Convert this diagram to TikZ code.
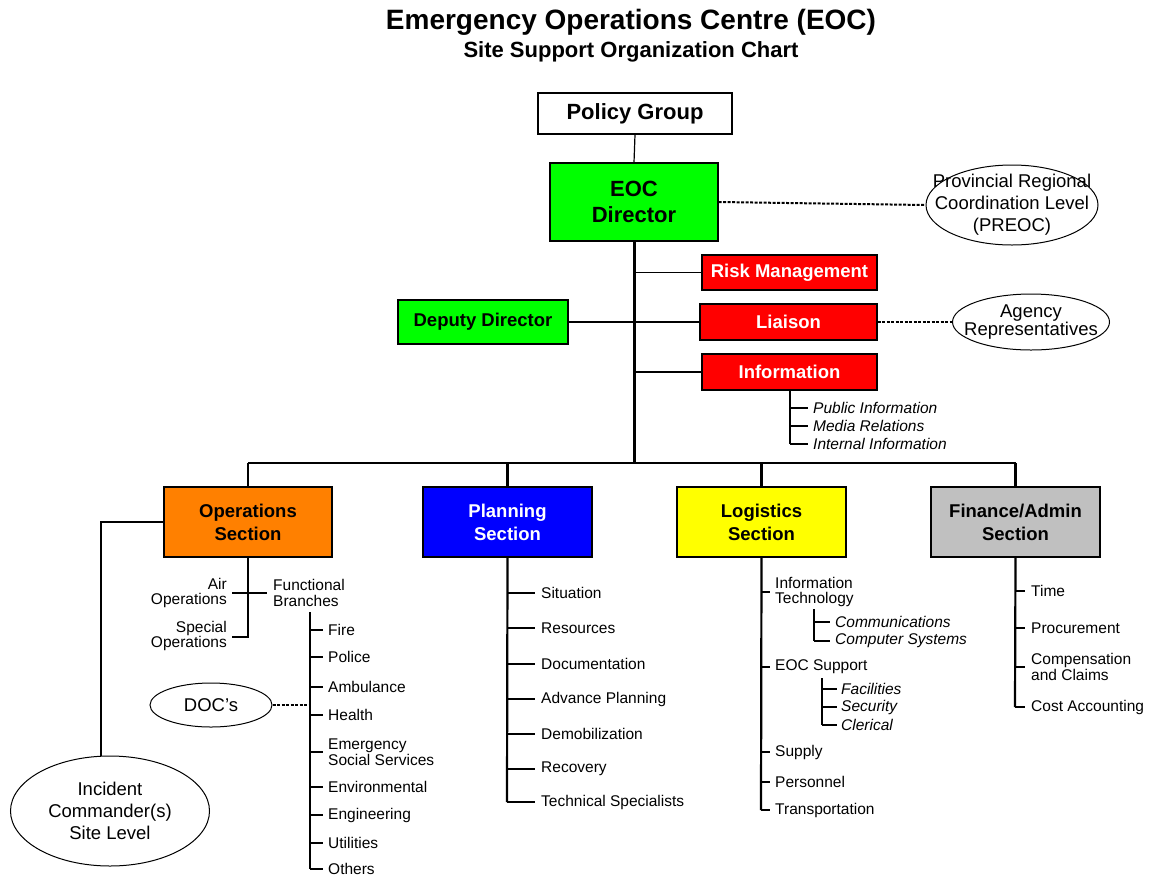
\documentclass[tikz,border=0pt]{standalone}
\usepackage{fontspec}
\setmainfont{Liberation Sans}
\usetikzlibrary{shapes.geometric}
\definecolor{eocgreen}{RGB}{0,255,0}
\definecolor{eocred}{RGB}{255,0,0}
\definecolor{eocorange}{RGB}{255,128,0}
\definecolor{eocblue}{RGB}{0,0,255}
\definecolor{eocyellow}{RGB}{255,255,0}
\definecolor{eocgray}{RGB}{192,192,192}
\tikzset{
  unit/.style={draw, line width=1.2pt, inner sep=0pt, align=center},
  bigbox/.style={unit, font=\fontsize{22}{26}\selectfont\bfseries},
  midbox/.style={unit, font=\fontsize{18.5}{23}\selectfont\bfseries},
  oval/.style={draw, ellipse, line width=1pt, inner xsep=-20pt, inner ysep=-6pt, align=center, font=\fontsize{18.5}{22}\selectfont},
  item/.style={anchor=west, inner sep=0pt, align=left, font=\fontsize{15.5}{15.5}\selectfont},
  subitem/.style={item, font=\fontsize{15.5}{15.5}\selectfont\itshape},
  stem/.style={line width=2.2pt},
  twig/.style={line width=1.2pt},
  link/.style={line width=2pt, dash pattern=on 3pt off 1.5pt}
}
\begin{document}
\begin{tikzpicture}[x=1pt, y=-1pt]
\useasboundingbox (0,0) rectangle (1151,876);
% titles
\node[font=\fontsize{28}{32}\selectfont\bfseries] (title) at (631,22) {Emergency Operations Centre (EOC)};
\node[font=\fontsize{22}{26}\selectfont\bfseries] (subtitle) at (631,52) {Site Support Organization Chart};

% command boxes
\node[bigbox, minimum width=194pt, minimum height=41pt] (policy) at (635,113.5) {Policy Group};
\node[bigbox, fill=eocgreen, minimum width=168pt, minimum height=78pt] (eoc) at (634,202) {EOC\\Director};
\node[midbox, fill=eocred, text=white, minimum width=175pt, minimum height=35pt] (risk) at (789.5,272.5) {Risk Management};
\node[midbox, fill=eocred, text=white, minimum width=177pt, minimum height=36pt] (liaison) at (788.5,322) {Liaison};
\node[midbox, fill=eocred, text=white, minimum width=175pt, minimum height=36pt] (info) at (789.5,372) {Information};
\node[midbox, fill=eocgreen, minimum width=170pt, minimum height=44pt] (deputy) at (483,322) {Deputy Director};

% outside agencies
\node[oval, minimum width=172pt, minimum height=80pt] (preoc) at (1012,205) {Provincial Regional\\Coordination Level\\(PREOC)};
\node[oval, minimum width=157pt, minimum height=56pt, font=\fontsize{18.5}{18}\selectfont] (agency) at (1031,322) {Agency\\Representatives};

% sections
\node[midbox, fill=eocorange, minimum width=168pt, minimum height=70pt] (ops) at (248,522) {Operations\\Section};
\node[midbox, fill=eocblue, text=white, minimum width=169pt, minimum height=70pt] (plan) at (507.5,522) {Planning\\Section};
\node[midbox, fill=eocyellow, minimum width=169pt, minimum height=70pt] (log) at (761.5,522) {Logistics\\Section};
\node[midbox, fill=eocgray, minimum width=169pt, minimum height=70pt] (fin) at (1015.5,522) {Finance/Admin\\Section};

\node[oval, minimum width=122pt, minimum height=44pt] (doc) at (211,705) {DOC's};
\node[oval, minimum width=199pt, minimum height=110pt] (ic) at (110,811) {Incident\\Commander(s)\\Site Level};

% main lines
\coordinate (bus) at (634,463);
\draw[twig] (policy.south) -- (eoc.north);
\draw[line width=3pt] (eoc.south) -- (bus);
\draw[twig] (eoc.south |- risk) -- (risk.west);
\draw[twig] (deputy.east) -- (liaison.west);
\draw[twig] (eoc.south |- info) -- (info.west);
\draw[link] (eoc.east) -- (preoc.west);
\draw[link] (liaison.east) -- (agency.west);
\draw[stem] (ops.north |- bus) -- (fin.north |- bus);
\foreach \s in {ops,plan,log,fin}
  \draw[stem] (\s.north |- bus) -- (\s.north);

% information
\draw[stem] (790,390) -- (790,444);
\foreach \n/\y/\t in {pubinfo/408/Public Information, media/426/Media Relations, intinfo/444/Internal Information}{
  \node[subitem] (\n) at (813,\y) {\t};
  \draw[twig] (790,\y) -- ([xshift=-5pt]\n.west);
}

% operations
\coordinate (icjoin) at (101,522);
\draw[twig] (ops.west) -- (icjoin) -- (icjoin |- ic.north);
\draw[stem] (ops.south) -- (248,637) -- (232,637);
\draw[twig] (232,593) -- (267,593);
\node[item, anchor=east, align=right] (air) at (227,593) {Air\\Operations};
\node[item, anchor=east, align=right] (special) at (227,636) {Special\\Operations};
\node[item] (branches) at (273,593) {Functional\\Branches};
\draw[stem] (310,612) -- (310,869);
\foreach \n/\y/\t in {fire/630/Fire, police/657/Police, ambulance/687/Ambulance, health/715/Health,
  ess/752/{Emergency\\Social Services}, enviro/787/Environmental, engineer/815/Engineering,
  utilities/843/Utilities, others/869/Others}{
  \node[item] (\n) at (328,\y) {\t};
  \draw[twig] (310,\y) -- ([xshift=-5pt]\n.west);
}
\draw[link] (doc.east) -- (310,705);

% planning
\draw[stem] (plan.south) -- (507,802);
\foreach \n/\y/\t in {situation/593/Situation, resources/628/Resources, documentation/664/Documentation,
  advance/699/Advance Planning, demob/734/Demobilization, recovery/769/Recovery,
  technical/802/Technical Specialists}{
  \node[item] (\n) at (541,\y) {\t};
  \draw[twig] (507,\y) -- ([xshift=-6pt]\n.west);
}

% logistics
\draw[stem] (log.south) -- (761,810);
\foreach \n/\y/\t in {infotech/592/{Information\\Technology}, support/667/EOC Support, supply/752/Supply,
  personnel/782/Personnel, transport/810/Transportation}{
  \node[item] (\n) at (775,\y) {\t};
  \draw[twig] (761,\y) -- ([xshift=-5pt]\n.west);
}
\draw[stem] (814,609) -- (814,641);
\foreach \n/\y/\t in {comms/622/Communications, computer/641/Computer Systems}{
  \node[subitem] (\n) at (835,\y) {\t};
  \draw[twig] (814,\y) -- ([xshift=-5pt]\n.west);
}
\draw[stem] (822,678) -- (822,725);
\foreach \n/\y/\t in {facilities/689/Facilities, security/707/Security, clerical/725/Clerical}{
  \node[subitem] (\n) at (841,\y) {\t};
  \draw[twig] (822,\y) -- ([xshift=-4pt]\n.west);
}

% finance
\draw[stem] (fin.south) -- (1015,707);
\foreach \n/\y/\t in {time/591/Time, procurement/628/Procurement, compensation/667/{Compensation\\and Claims},
  cost/707/Cost Accounting}{
  \node[item] (\n) at (1031,\y) {\t};
  \draw[twig] (1015,\y) -- ([xshift=-6pt]\n.west);
}
\end{tikzpicture}
\end{document}
